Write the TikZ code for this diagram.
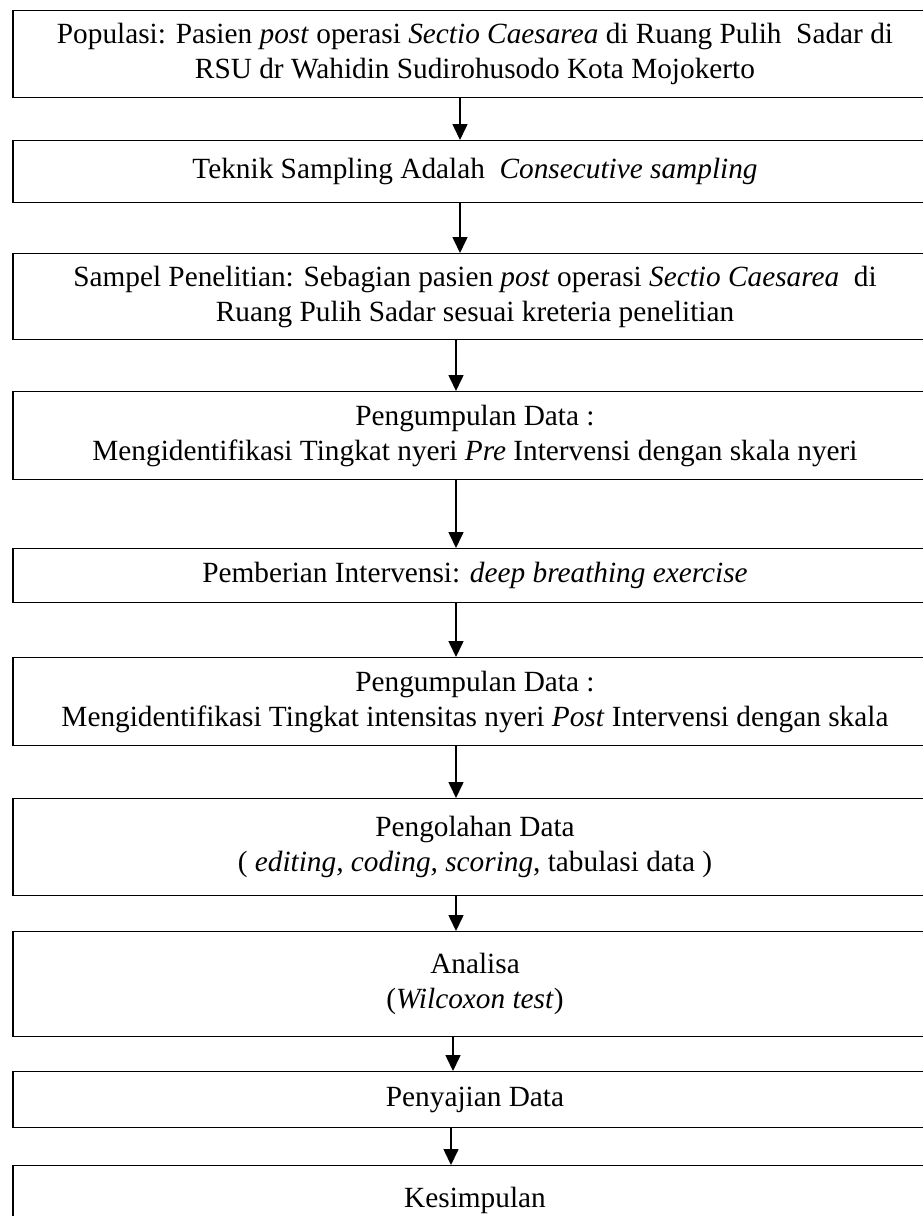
\documentclass[tikz,border=0pt]{standalone}
\usepackage{fontspec}
\setmainfont{Liberation Serif}
\usepackage{tikz}
\usetikzlibrary{positioning,calc,arrows.meta}

\tikzset{
    flowbox/.style={draw, line width=1.4pt, anchor=north, minimum width=924pt,
        align=center, inner sep=0pt, font=\fontsize{29.3}{35}\selectfont},
    flowarr/.style={line width=1.6pt, -{Triangle[length=16pt,width=15pt]}}
}

\begin{document}
\begin{tikzpicture}[x=1pt,y=-1pt]
    % Frame
    \useasboundingbox (0,0) rectangle (923,1216);
    \clip (0,0) rectangle (923,1216);

    % Boxes
    \node[flowbox, minimum height=87.5pt] (pop) at (475,9.5)
        {Populasi: Pasien \textit{post} operasi \textit{Sectio Caesarea} di Ruang Pulih\ \ Sadar di\\
         RSU dr Wahidin Sudirohusodo Kota Mojokerto};
    \node[flowbox, minimum height=62pt] (teknik) at (475,140)
        {Teknik Sampling Adalah\ \ \textit{Consecutive sampling}};
    \node[flowbox, minimum height=86pt] (sampel) at (475,253)
        {Sampel Penelitian: Sebagian pasien \textit{post} operasi \textit{Sectio Caesarea}\ \ di\\
         Ruang Pulih Sadar sesuai kreteria penelitian};
    \node[flowbox, minimum height=88pt] (pre) at (475,391)
        {Pengumpulan Data :\\
         Mengidentifikasi Tingkat nyeri \textit{Pre} Intervensi dengan skala nyeri};
    \node[flowbox, minimum height=54pt] (interv) at (475,548)
        {Pemberian Intervensi: \textit{deep breathing exercise}};
    \node[flowbox, minimum height=88pt] (post) at (475,657)
        {Pengumpulan Data :\\
         Mengidentifikasi Tingkat intensitas nyeri \textit{Post} Intervensi dengan skala};
    \node[flowbox, minimum height=97pt] (olah) at (475,798)
        {Pengolahan Data\\
         ( \textit{editing, coding, scoring}, tabulasi data )};
    \node[flowbox, minimum height=105pt] (analisa) at (475,931)
        {Analisa\\
         (\textit{Wilcoxon test})};
    \node[flowbox, minimum height=56pt] (saji) at (475,1071)
        {Penyajian Data};
    \node[flowbox, minimum height=70pt] (simpul) at (475,1165)
        {Kesimpulan};

    % Arrows
    \foreach \a/\b/\dx in {pop/teknik/-15, teknik/sampel/-15, sampel/pre/-19,
                           pre/interv/-19, interv/post/-19, post/olah/-19,
                           olah/analisa/-19, analisa/saji/-22, saji/simpul/-24}
        \draw[flowarr] ($(\a.south)+(\dx,0)$) -- ($(\b.north)+(\dx,0)$);
\end{tikzpicture}
\end{document}
